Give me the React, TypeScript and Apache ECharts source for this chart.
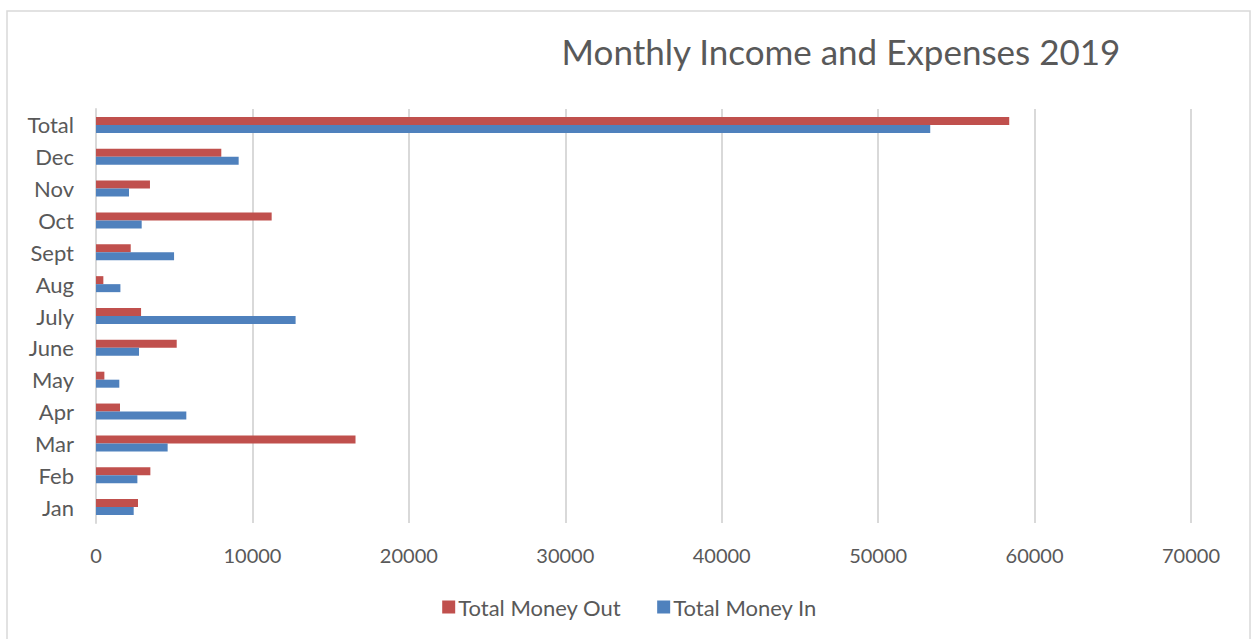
import React, { useEffect, useRef } from "react";
import * as echarts from "echarts";

const categories = ["Jan", "Feb", "Mar", "Apr", "May", "June", "July", "Aug", "Sept", "Oct", "Nov", "Dec", "Total"];
const moneyOut = [2685, 3475, 16590, 1535, 535, 5160, 2880, 470, 2220, 11230, 3450, 8010, 58380];
const moneyIn = [2410, 2645, 4580, 5775, 1490, 2750, 12760, 1560, 4990, 2920, 2110, 9120, 53330];
const xTicks = [0, 10000, 20000, 30000, 40000, 50000, 60000, 70000];

const FONT = "Lato, 'Open Sans', sans-serif";
const TEXT = "#595959";

export default function App() {
  const ref = useRef<HTMLDivElement>(null);
  useEffect(() => {
    if (!ref.current) return;
    const chart = echarts.init(ref.current, null, { renderer: "svg" });
    chart.setOption({
      animation: false,
      backgroundColor: "#ffffff",
      textStyle: { fontFamily: FONT, color: TEXT },
      graphic: [
        {
          type: "rect",
          shape: { x: 7, y: 11, width: 1243, height: 640 },
          style: { fill: "none", stroke: "#D9D9D9", lineWidth: 1.5 },
          silent: true,
        },
        {
          type: "text",
          x: 841,
          y: 51,
          style: {
            text: "Monthly Income and Expenses 2019",
            fontFamily: FONT,
            fontSize: 35,
            fill: TEXT,
            align: "center",
            verticalAlign: "middle",
          },
        },
      ],
      legend: {
        data: ["Total Money Out", "Total Money In"],
        left: "center",
        top: 591,
        itemWidth: 13,
        itemHeight: 13,
        itemGap: 36,
        icon: "rect",
        textStyle: { fontFamily: FONT, fontSize: 22, color: TEXT, padding: [0, 0, 0, -2] },
      },
      grid: { left: 96, right: 68, top: 109, bottom: 116, containLabel: false },
      xAxis: {
        type: "value",
        min: xTicks[0],
        max: xTicks[xTicks.length - 1],
        interval: 10000,
        axisLine: { show: false },
        axisTick: { show: false },
        splitLine: { show: true, lineStyle: { color: "#D9D9D9", width: 2 } },
        axisLabel: {
          fontFamily: FONT,
          fontSize: 20,
          color: TEXT,
          margin: 22,
          formatter: (v: number) => String(v),
        },
      },
      yAxis: {
        type: "category",
        data: categories,
        axisLine: { show: true, lineStyle: { color: "#D9D9D9", width: 2 } },
        axisTick: { show: false },
        axisLabel: { fontFamily: FONT, fontSize: 22, color: TEXT, margin: 22 },
      },
      series: [
        {
          name: "Total Money Out",
          type: "bar",
          data: moneyOut,
          barWidth: 8,
          barGap: "0%",
          itemStyle: { color: "#C0504D" },
        },
        {
          name: "Total Money In",
          type: "bar",
          data: moneyIn,
          barWidth: 8,
          barGap: "0%",
          itemStyle: { color: "#4F81BD" },
        },
      ],
    });
    return () => chart.dispose();
  }, []);
  return (
    <div
      ref={ref}
      style={{ position: "fixed", left: 0, top: 0, width: 1259, height: 639 }}
    />
  );
}
